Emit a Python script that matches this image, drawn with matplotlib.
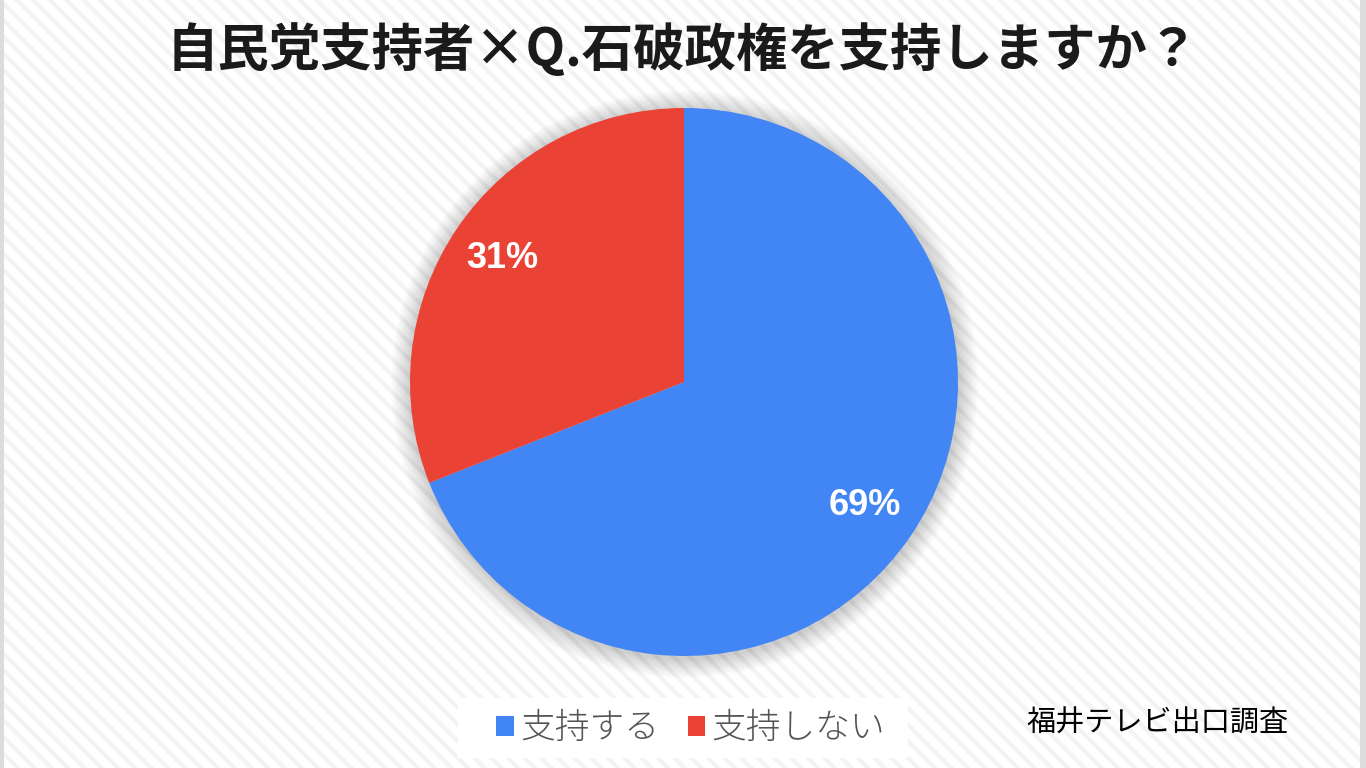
import matplotlib
matplotlib.use("Agg")
import matplotlib.pyplot as plt
from matplotlib.patches import Rectangle, Circle

# survey result
labels = ["支持する", "支持しない"]
shares = [69, 31]
colors = ["#4285F4", "#EA4335"]

title = "自民党支持者×Q.石破政権を支持しますか？"
source = "福井テレビ出口調査"

JP = ["Noto Sans CJK JP", "DejaVu Sans"]
plt.rcParams["hatch.linewidth"] = 3.0

W, H = 1366, 768
fig = plt.figure(figsize=(W / 100, H / 100), dpi=100)

# striped background + grey side bars
bg = fig.add_axes([0, 0, 1, 1])
bg.set_xlim(0, W)
bg.set_ylim(H, 0)
bg.axis("off")
bg.add_patch(Rectangle((0, 0), W, H, facecolor="white", edgecolor="#f3f3f3",
                       hatch="\\\\", lw=0))
bg.add_patch(Rectangle((0, 0), 4, H, facecolor="#dcdcdc", lw=0))
bg.add_patch(Rectangle((W - 6, 0), 6, H, facecolor="#dcdcdc", lw=0))
bg.add_patch(Rectangle((458, 698), 450, 60, facecolor="white", lw=0))

# pie
cx, cy, r = 684, 382, 274
half = 300
ax = fig.add_axes([(cx - half) / W, (H - cy - half) / H, 2 * half / W, 2 * half / H])

# soft shadow
for i in range(16):
    ax.add_patch(Circle((0.003, -0.008), 1.0 + 0.0045 * (i + 1), facecolor="black",
                        alpha=0.012, lw=0, zorder=0))

wedges, _, autotexts = ax.pie(shares, colors=colors, startangle=90, counterclock=False,
                              radius=1.0, autopct="%d%%", pctdistance=0.8,
                              wedgeprops=dict(linewidth=0))
for t in autotexts:
    t.set_color("white")
    t.set_fontsize(26)
    t.set_fontweight("bold")
    t.set_family(["Liberation Sans", "DejaVu Sans"])

ax.set_xlim(-half / r, half / r)
ax.set_ylim(-half / r, half / r)
ax.set_aspect("equal")
ax.axis("off")

fig.text(0.5, 1 - 50 / H, title, ha="center", va="center", fontsize=37,
         fontweight="bold", family=JP, color="#1a1a1a")

leg = fig.legend(wedges, labels, loc="center", bbox_to_anchor=(691 / W, 1 - 728 / H),
                 ncol=2, frameon=False, handlelength=0.5, handleheight=0.5,
                 handletextpad=0.2, columnspacing=0.8,
                 prop=dict(family=JP, size=25, weight="light"))
for t in leg.get_texts():
    t.set_color("#555555")

fig.text(1157 / W, 1 - 724 / H, source, ha="center", va="center", fontsize=21,
         family=JP, color="black")

fig.savefig("out.png", dpi=100)
